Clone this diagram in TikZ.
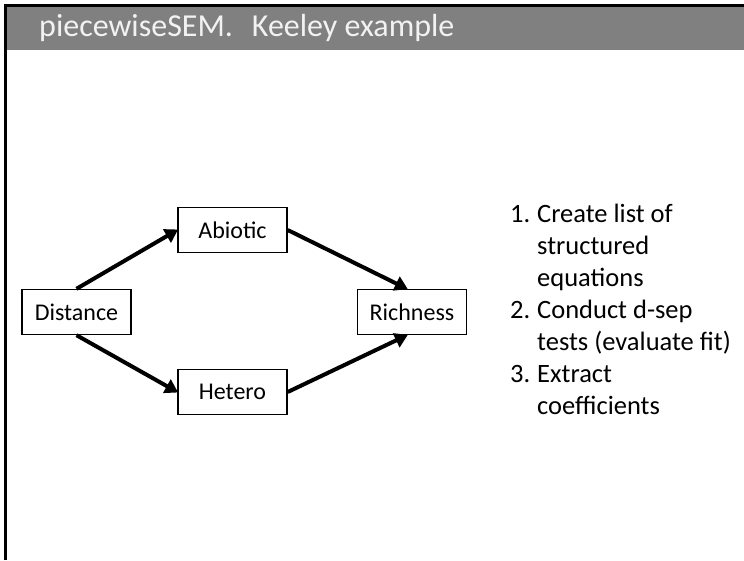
\documentclass[tikz,border=0pt]{standalone}
\usepackage{fontspec}
\setmainfont{Carlito}
\usetikzlibrary{arrows.meta,calc}
\definecolor{bargray}{RGB}{128,128,128}
\definecolor{titletext}{RGB}{242,242,242}
\tikzset{
  box/.style={draw=black, line width=1.4pt, minimum width=109pt, minimum height=45pt, inner sep=0pt, font=\fontsize{24}{28}\selectfont},
  conn/.style={line width=4pt, -{Triangle[length=13pt,width=15pt]}, shorten >=-1pt},
  listline/.style={anchor=base west, inner sep=0pt, font=\fontsize{26.5}{32}\selectfont}
}
\begin{document}
\begin{tikzpicture}[x=1pt,y=-1pt]
\useasboundingbox (0,0) rectangle (744,560);
\fill[white] (0,0) rectangle (744,560);
% title bar
\fill[bargray] (7,7) rectangle (744,50);
\draw[line width=3pt] (5.5,560) -- (5.5,5.5) -- (744,5.5);
\node[anchor=base west, inner sep=0pt, text=titletext, font=\fontsize{32}{36}\selectfont] (title) at (39,36.5) {piecewiseSEM.\hspace{19pt}Keeley example};
% boxes
\node[box] (dist) at (76.5,312) {Distance};
\node[box] (abio) at (232.5,230) {Abiotic};
\node[box] (het) at (232.5,392) {Hetero};
\node[box] (rich) at (412,312) {Richness};
% connectors
\draw[conn] (dist.north) -- (abio.west);
\draw[conn] (dist.south) -- (het.west);
\draw[conn] (abio.east) -- ($(rich.north)+(-5,0)$);
\draw[conn] (het.east) -- ($(rich.south)+(-5,0)$);
% list
\node[listline] (n1) at (510,222) {1.};
\node[listline] (l1) at (537,222) {Create list of};
\node[listline] (l2) at (537,254) {structured};
\node[listline] (l3) at (537,286) {equations};
\node[listline] (n2) at (510,318) {2.};
\node[listline] (l4) at (537,318) {Conduct d-sep};
\node[listline] (l5) at (537,350) {tests (evaluate fit)};
\node[listline] (n3) at (510,382) {3.};
\node[listline] (l6) at (537,382) {Extract};
\node[listline] (l7) at (537,414) {coefficients};
\end{tikzpicture}
\end{document}
